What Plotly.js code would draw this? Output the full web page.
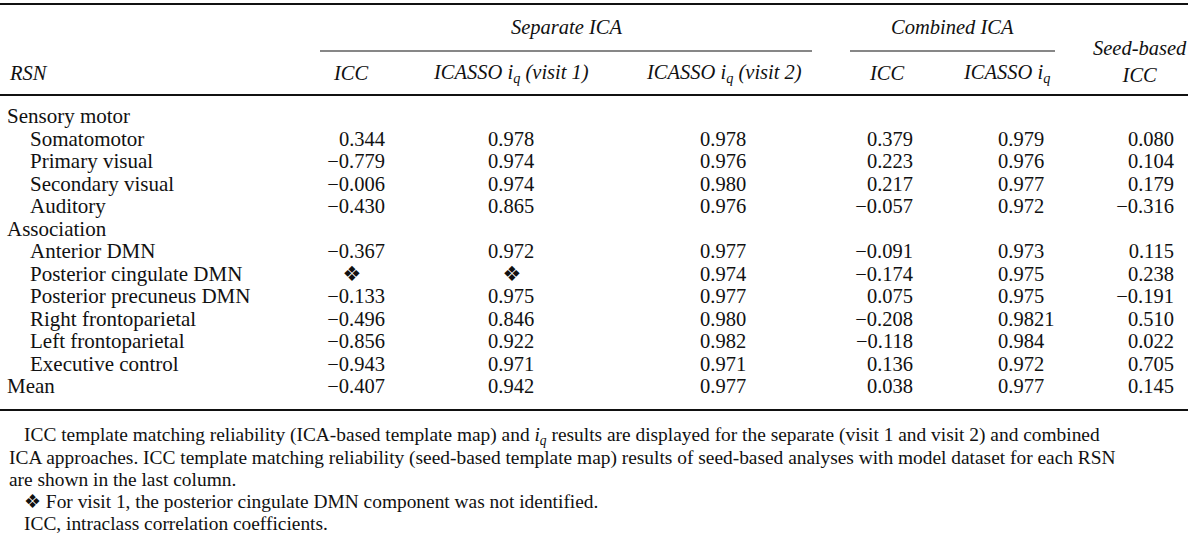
<!DOCTYPE html>
<html>
<head>
<meta charset="utf-8">
<script src="https://cdn.plot.ly/plotly-3.0.1.min.js"></script>
<style>
html,body{margin:0;padding:0;background:#fff;}
#chart{width:1200px;height:549px;}
</style>
</head>
<body>
<div id="chart"></div>
<script>
// ---------- DATA ----------
const rsnLabels = ['Sensory motor','Somatomotor','Primary visual','Secondary visual','Auditory',
  'Association','Anterior DMN','Posterior cingulate DMN','Posterior precuneus DMN',
  'Right frontoparietal','Left frontoparietal','Executive control','Mean'];
const rowKind = ['group','item','item','item','item','group','item','item','item','item','item','item','total'];
const MISSING = '\u2756';
const sepICC      = [null, 0.344, -0.779, -0.006, -0.430, null, -0.367, MISSING, -0.133, -0.496, -0.856, -0.943, -0.407];
const sepIqVisit1 = [null, 0.978, 0.974, 0.974, 0.865, null, 0.972, MISSING, 0.975, 0.846, 0.922, 0.971, 0.942];
const sepIqVisit2 = [null, 0.978, 0.976, 0.980, 0.976, null, 0.977, 0.974, 0.977, 0.980, 0.982, 0.971, 0.977];
const combICC     = [null, 0.379, 0.223, 0.217, -0.057, null, -0.091, -0.174, 0.075, -0.208, -0.118, 0.136, 0.038];
const combIq      = [null, 0.979, 0.976, 0.977, 0.972, null, 0.973, 0.975, 0.975, 0.9821, 0.984, 0.972, 0.977];
const seedICC     = [null, 0.080, 0.104, 0.179, -0.316, null, 0.115, 0.238, -0.191, 0.510, 0.022, 0.705, 0.145];

const groupHeaders = ['Separate ICA', 'Combined ICA'];
const colHeaders = ['RSN', 'ICC', 'ICASSO i<sub>q</sub> (visit 1)', 'ICASSO i<sub>q</sub> (visit 2)', 'ICC', 'ICASSO i<sub>q</sub>', 'Seed-based<br>ICC'];
const footnotes = [
  'ICC template matching reliability (ICA-based template map) and <i>i<sub>q</sub></i> results are displayed for the separate (visit 1 and visit 2) and combined',
  'ICA approaches. ICC template matching reliability (seed-based template map) results of seed-based analyses with model dataset for each RSN',
  'are shown in the last column.',
  '\u2756 For visit 1, the posterior cingulate DMN component was not identified.',
  'ICC, intraclass correlation coefficients.'
];

// ---------- LAYOUT / STYLE ----------
const FONT = 'Liberation Serif, Times New Roman, serif';
const FS = 20.5;
const ROW0 = 118, ROWSTEP = 22.5;
const rowY = i => ROW0 + i * ROWSTEP;

function fmt(v){
  if (v === null) return '';
  if (v === MISSING) return MISSING;
  let s = Math.abs(v).toString();
  let parts = s.split('.');
  let d = parts[1] || '';
  while (d.length < 3) d += '0';
  return (v < 0 ? '\u2212' : '') + parts[0] + '.' + d;
}

// column placement: x anchor, alignment
const cols = [
  {data: sepICC,      x: 385,  pos: 'middle left',  missX: 352},
  {data: sepIqVisit1, x: 488,  pos: 'middle right', missX: 512},
  {data: sepIqVisit2, x: 700,  pos: 'middle right'},
  {data: combICC,     x: 913,  pos: 'middle left'},
  {data: combIq,      x: 998,  pos: 'middle right'},
  {data: seedICC,     x: 1174, pos: 'middle left'}
];

const traces = [];
// row labels
traces.push({
  type: 'scatter', mode: 'text', hoverinfo: 'skip', showlegend: false,
  x: rsnLabels.map((_, i) => rowKind[i] === 'item' ? 30 : 7),
  y: rsnLabels.map((_, i) => rowY(i)),
  text: rsnLabels,
  textposition: 'middle right',
  textfont: {family: FONT, size: FS + 0.5, color: '#111'},
  cliponaxis: false
});
cols.forEach(c => {
  const xs = [], ys = [], ts = [], mx = [], my = [];
  c.data.forEach((v, i) => {
    if (v === null) return;
    if (v === MISSING) { mx.push(c.missX); my.push(rowY(i)); return; }
    xs.push(c.x); ys.push(rowY(i)); ts.push(fmt(v));
  });
  traces.push({
    type: 'scatter', mode: 'text', hoverinfo: 'skip', showlegend: false,
    x: xs, y: ys, text: ts, textposition: c.pos,
    textfont: {family: FONT, size: FS, color: '#111'}, cliponaxis: false
  });
  if (mx.length) {
    traces.push({
      type: 'scatter', mode: 'text', hoverinfo: 'skip', showlegend: false,
      x: mx, y: my, text: mx.map(() => MISSING), textposition: 'middle center',
      textfont: {family: 'DejaVu Sans', size: 21, color: '#111'}, cliponaxis: false
    });
  }
});

const ann = [];
const hdrFont = {family: FONT, size: FS, color: '#111', style: 'italic'};
// group headers
ann.push({x: 566, y: 27, text: groupHeaders[0], xanchor: 'center'});
ann.push({x: 952, y: 27, text: groupHeaders[1], xanchor: 'center'});
// column headers
ann.push({x: 7, y: 73, text: colHeaders[0], xanchor: 'left'});
ann.push({x: 351, y: 73, text: colHeaders[1], xanchor: 'center'});
ann.push({x: 511, y: 73, text: colHeaders[2], xanchor: 'center'});
ann.push({x: 724, y: 73, text: colHeaders[3], xanchor: 'center'});
ann.push({x: 887, y: 73, text: colHeaders[4], xanchor: 'center'});
ann.push({x: 1006, y: 73, text: colHeaders[5], xanchor: 'center'});
ann.push({x: 1140, y: 61, text: colHeaders[6], xanchor: 'center'});
ann.forEach(a => { Object.assign(a, {xref: 'x', yref: 'y', yanchor: 'middle', showarrow: false, font: hdrFont, align: 'center'}); });

const FN_FS = 19.4, FN0 = 436, FNSTEP = 21.8;
const fnX = [22, 7, 7, 22, 22];
footnotes.forEach((t, j) => {
  ann.push({xref: 'x', yref: 'y', x: fnX[j], y: FN0 + j * FNSTEP, text: t, xanchor: 'left', yanchor: 'middle',
    showarrow: false, font: {family: FONT, size: FN_FS, color: '#111'}});
});

const shapes = [
  {x0: 0, x1: 1188, y0: 4, y1: 4, w: 2},
  {x0: 320, x1: 812, y0: 51, y1: 51, w: 1.2},
  {x0: 850, x1: 1055, y0: 51, y1: 51, w: 1.2},
  {x0: 0, x1: 1188, y0: 95, y1: 95, w: 2},
  {x0: 0, x1: 1188, y0: 410, y1: 410, w: 2}
].map(s => ({type: 'line', xref: 'x', yref: 'y', x0: s.x0, x1: s.x1, y0: s.y0, y1: s.y1, line: {color: '#111', width: s.w}}));

const layout = {
  width: 1200, height: 549,
  margin: {l: 0, r: 0, t: 0, b: 0},
  paper_bgcolor: '#fff', plot_bgcolor: '#fff',
  xaxis: {range: [0, 1200], visible: false, fixedrange: true},
  yaxis: {range: [549, 0], visible: false, fixedrange: true},
  annotations: ann, shapes: shapes, showlegend: false
};
Plotly.newPlot('chart', traces, layout, {staticPlot: true, displayModeBar: false});
</script>
</body>
</html>
